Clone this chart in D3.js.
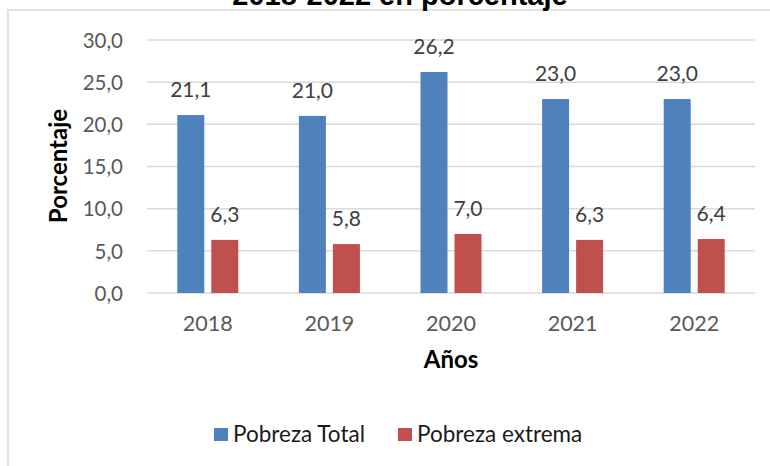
<!DOCTYPE html>
<html><head><meta charset="utf-8">
<script src="https://cdn.jsdelivr.net/npm/d3@7"></script>
<style>body{margin:0;background:#fff}svg{display:block}</style>
</head><body>
<svg id="c" width="770" height="466"></svg>
<script>
const years = ["2018","2019","2020","2021","2022"];
const seriesNames = ["Pobreza Total","Pobreza extrema"];
const pobrezaTotal = [21.1, 21.0, 26.2, 23.0, 23.0];
const pobrezaExtrema = [6.3, 5.8, 7.0, 6.3, 6.4];
const yTicks = [0,5,10,15,20,25,30];
const colors = ["#4F81BD","#C0504D"];
const titleText = "2018-2022 en porcentaje";

const svg = d3.select("#c");
const font = "Lato, 'Open Sans', sans-serif";
const fmt = v => d3.format(".1f")(v).replace(".", ",");

// chart border
svg.append("rect").attr("x",8).attr("y",10).attr("width",800).attr("height",500)
  .attr("fill","none").attr("stroke","#d9d9d9").attr("stroke-width",1.5);

// title (clipped at top, as in the original)
svg.append("text").attr("x",400).attr("y",5).attr("text-anchor","middle")
  .attr("font-family","'Liberation Sans', Arial, sans-serif").attr("font-weight","bold")
  .attr("font-size",29).attr("fill","#000").text(titleText);

const L=147, R=755, T=40, B=293;
const x = d3.scaleBand().domain(years).range([L,R]).padding(0);
const x1 = d3.scaleBand().domain(seriesNames).range([0,x.bandwidth()]).paddingInner(0.206).paddingOuter(0.891);
const y = d3.scaleLinear().domain([0,30]).range([B,T]);

// gridlines
svg.append("g").selectAll("line").data(yTicks).join("line")
  .attr("x1",L).attr("x2",R).attr("y1",d=>y(d)).attr("y2",d=>y(d))
  .attr("stroke","#d9d9d9").attr("stroke-width",1.5);

// y axis labels
const yAxis = d3.axisLeft(y).tickValues(yTicks).tickFormat(fmt).tickSize(0).tickPadding(0);
const gy = svg.append("g").attr("transform",`translate(123,0)`).call(yAxis);
gy.select(".domain").remove();
gy.selectAll("text").attr("font-family",font).attr("font-size",20.5).attr("fill","#595959").attr("dy","0.35em");

// x axis labels
const xAxis = d3.axisBottom(x).tickSize(0).tickPadding(0);
const gx = svg.append("g").attr("transform",`translate(0,${B})`).call(xAxis);
gx.select(".domain").remove();
gx.selectAll("text").attr("font-family",font).attr("font-size",21.5).attr("fill","#595959").attr("dy",null).attr("y",38);

const data = years.map((yr,i)=>({year:yr, vals:[pobrezaTotal[i], pobrezaExtrema[i]]}));

const groups = svg.append("g").selectAll("g").data(data).join("g")
  .attr("transform",d=>`translate(${x(d.year)},0)`);
groups.selectAll("rect").data(d=>d.vals.map((v,k)=>({v,k})) ).join("rect")
  .attr("x",d=>x1(seriesNames[d.k])).attr("width",x1.bandwidth())
  .attr("y",d=>y(d.v)).attr("height",d=>B-y(d.v))
  .attr("fill",d=>colors[d.k]);
groups.selectAll("text").data(d=>d.vals.map((v,k)=>({v,k})) ).join("text")
  .attr("x",d=>x1(seriesNames[d.k])+x1.bandwidth()/2).attr("y",d=>y(d.v)-18)
  .attr("text-anchor","middle").attr("font-family",font).attr("font-size",21)
  .attr("fill","#404040").text(d=>fmt(d.v));

// axis titles
svg.append("text").attr("transform","translate(67,166) rotate(-90)").attr("text-anchor","middle")
  .attr("font-family",font).attr("font-weight","bold").attr("font-size",24).attr("fill","#000").text("Porcentaje");
svg.append("text").attr("x",(L+R)/2).attr("y",368).attr("text-anchor","middle")
  .attr("font-family",font).attr("font-weight","bold").attr("font-size",24).attr("fill","#000").text("Años");

// legend
const leg = svg.append("g");
const legX = [214, 398];
seriesNames.forEach((s,i)=>{
  leg.append("rect").attr("x",legX[i]).attr("y",428).attr("width",14).attr("height",13).attr("fill",colors[i]);
  leg.append("text").attr("x",legX[i]+19).attr("y",434.5).attr("dy","0.35em")
    .attr("font-family",font).attr("font-size",22.5).attr("fill","#1a1a1a").text(s);
});
</script>
</body></html>
